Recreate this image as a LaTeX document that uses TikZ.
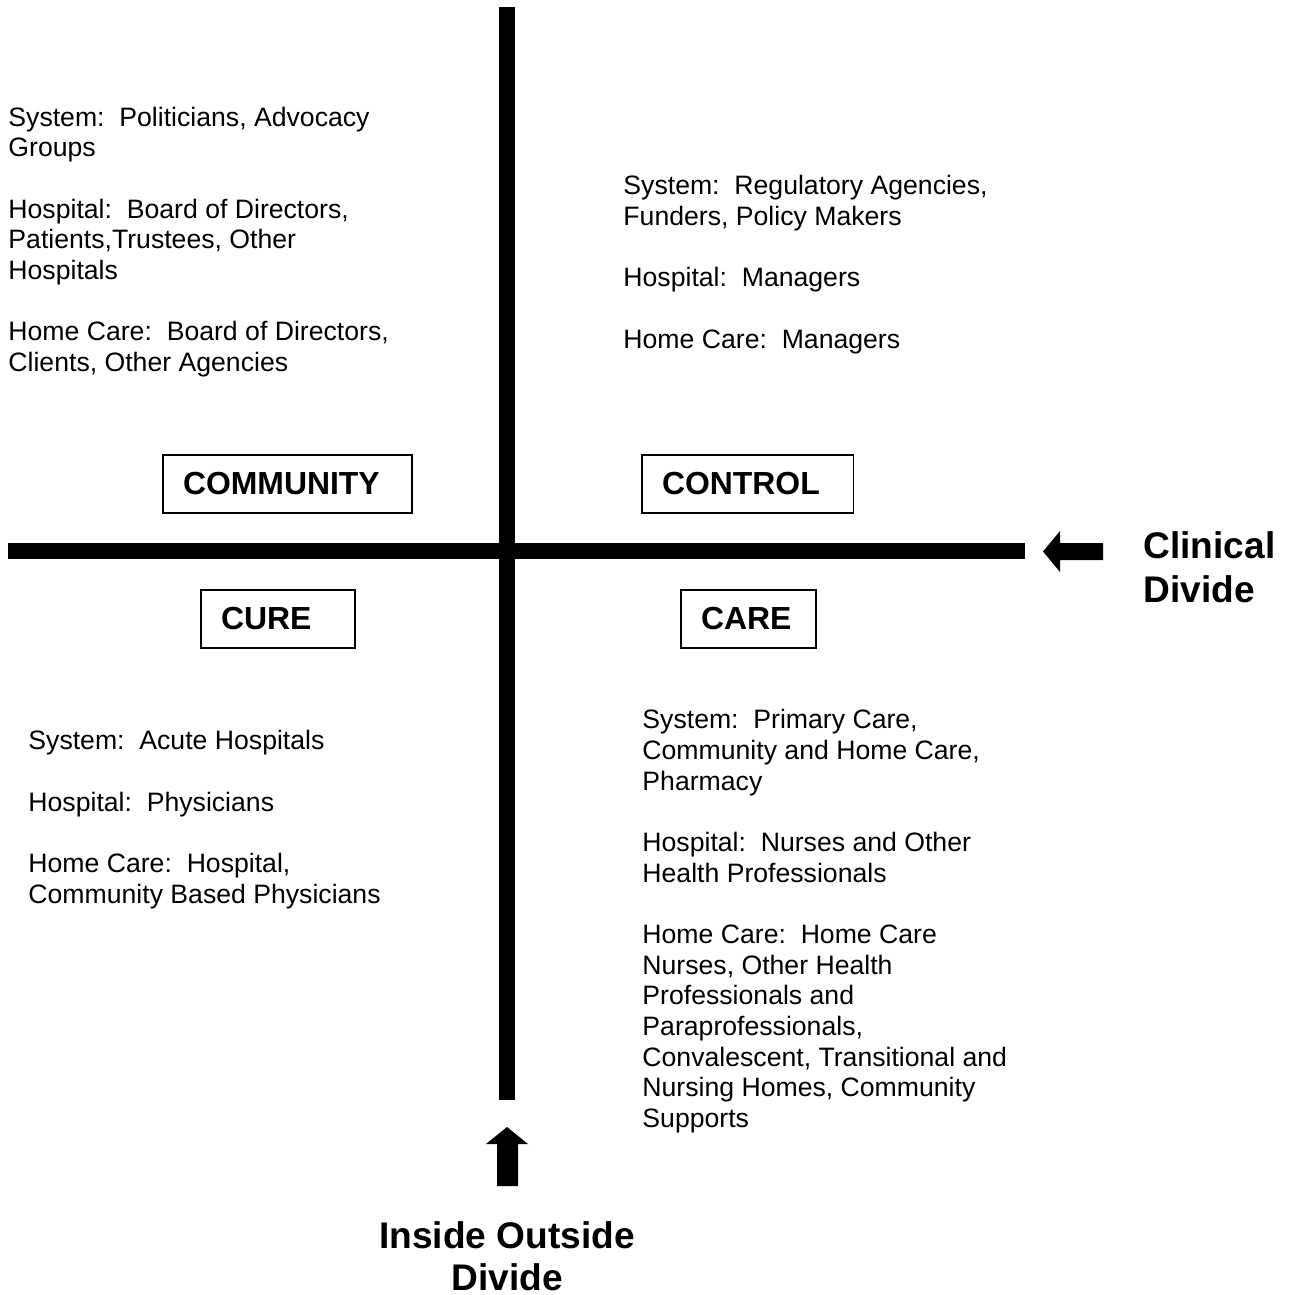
\documentclass[tikz,border=0pt]{standalone}
\usepackage{fontspec}
\setmainfont{Liberation Sans}
\usepackage{tikz}
\usepackage{xcolor}

\tikzset{
    axis/.style={line width=6.7pt},
    body/.style={anchor=north west, inner sep=0pt, align=left,
        font=\fontsize{11.85}{13.65}\selectfont},
    quadbox/.style={draw, line width=0.7pt, anchor=west, align=left,
        inner xsep=9pt, inner ysep=0pt, minimum height=25.8pt,
        text width=#1, font=\bfseries\fontsize{14.2}{16}\selectfont},
    divide/.style={inner sep=0pt, font=\bfseries\fontsize{16.5}{#1}\selectfont}
}
\newcommand{\pgap}{\\[13.65pt]}

\begin{document}
\begin{tikzpicture}[x=0.445pt, y=-0.445pt]
                    \useasboundingbox (0,0) rectangle (1293,1295);

                    %axes
                    \coordinate (vtop) at (507,7);
                    \coordinate (vbot) at (507,1100);
                    \coordinate (hleft) at (8,551);
                    \coordinate (hright) at (1025,551);
                    \draw[axis] (vtop) to (vbot);
                    \draw[axis] (hleft) to (hright);

                    %quadrant boxes
                    \node[quadbox=92.8pt] (community) at (162,484) {COMMUNITY};
                    \node[quadbox=76.3pt] (control) at (641,484) {CONTROL};
                    \node[quadbox=50.5pt] (cure) at (200,619) {CURE};
                    \node[quadbox=42.1pt] (care) at (680,619) {CARE};

                    %top left text
                    \node[body] (commtext) at (8,106.5)
                    {System:\ \ Politicians, Advocacy\\ Groups\pgap
                     Hospital:\ \ Board of Directors,\\ Patients,Trustees, Other\\ Hospitals\pgap
                     Home Care:\ \ Board of Directors,\\ Clients, Other Agencies};

                    %top right text
                    \node[body] (ctrltext) at (623,175)
                    {System:\ \ Regulatory Agencies,\\ Funders, Policy Makers\pgap
                     Hospital:\ \ Managers\pgap
                     Home Care:\ \ Managers};

                    %bottom left text
                    \node[body] (curetext) at (28,730)
                    {System:\ \ Acute Hospitals\pgap
                     Hospital:\ \ Physicians\pgap
                     Home Care:\ \ Hospital,\\ Community Based Physicians};

                    %bottom right text
                    \node[body] (caretext) at (642,709)
                    {System:\ \ Primary Care,\\ Community and Home Care,\\ Pharmacy\pgap
                     Hospital:\ \ Nurses and Other\\ Health Professionals\pgap
                     Home Care:\ \ Home Care\\ Nurses, Other Health\\ Professionals and\\
                     Paraprofessionals,\\ Convalescent, Transitional and\\
                     Nursing Homes, Community\\ Supports};

                    %clinical divide arrow
                    \fill (1043,551.5) -- (1060,531) -- (1060,543) -- (1103,543)
                        -- (1103,560) -- (1060,560) -- (1060,572) -- cycle;
                    \node[divide=19.5, anchor=north west, align=left] (clinical) at (1143,531)
                        {Clinical\\ Divide};

                    %inside outside arrow
                    \fill (507,1127) -- (528,1144) -- (518,1144) -- (518,1186)
                        -- (497,1186) -- (497,1144) -- (486,1144) -- cycle;
                    \node[divide=18.7, anchor=north, align=center] (inout) at (507,1221.5)
                        {Inside Outside\\ Divide};
                \end{tikzpicture}
\end{document}
